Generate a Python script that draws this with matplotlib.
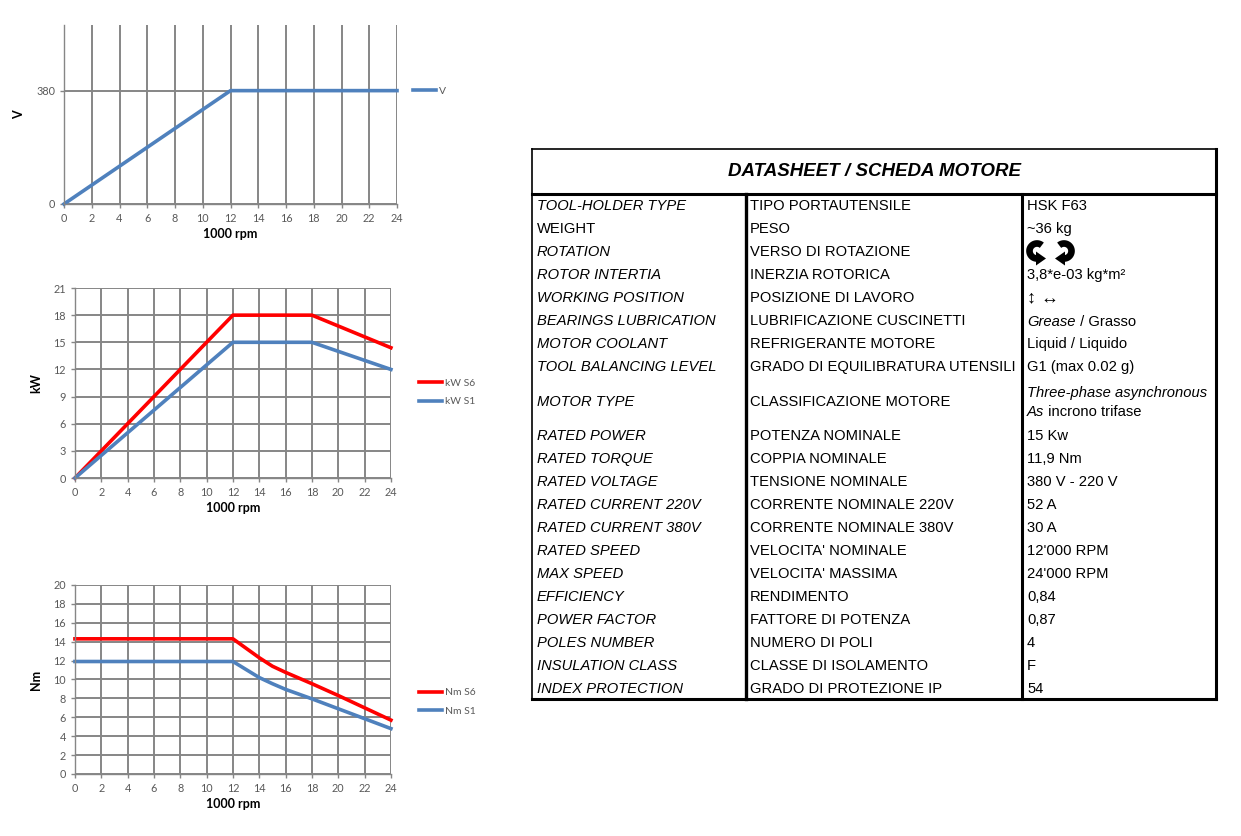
import matplotlib
matplotlib.use("Agg")
import matplotlib.pyplot as plt
import numpy as np

# chart data (x in 1000 rpm)
rpm_v = [0, 12, 24]
volts = [0, 380, 380]

rpm_kw = [0, 12, 18, 24]
kw_s6 = [0, 18, 18, 14.4]
kw_s1 = [0, 15, 15, 12]

rpm_nm = [0, 12, 14, 15, 16, 18, 20, 22, 24]
nm_s6 = [14.3, 14.3, 12.3, 11.4, 10.75, 9.55, 8.3, 7.0, 5.7]
nm_s1 = [11.9, 11.9, 10.2, 9.55, 8.95, 7.95, 6.9, 5.85, 4.8]

x_ticks = list(range(0, 25, 2))

# datasheet table
title = "DATASHEET / SCHEDA MOTORE"
col_en = ["TOOL-HOLDER TYPE", "WEIGHT", "ROTATION", "ROTOR INTERTIA", "WORKING POSITION",
          "BEARINGS LUBRICATION", "MOTOR COOLANT", "TOOL BALANCING LEVEL", "MOTOR TYPE",
          "RATED POWER", "RATED TORQUE", "RATED VOLTAGE", "RATED CURRENT 220V",
          "RATED CURRENT 380V", "RATED SPEED", "MAX SPEED", "EFFICIENCY", "POWER FACTOR",
          "POLES NUMBER", "INSULATION CLASS", "INDEX PROTECTION"]
col_it = ["TIPO PORTAUTENSILE", "PESO", "VERSO DI ROTAZIONE", "INERZIA ROTORICA",
          "POSIZIONE DI LAVORO", "LUBRIFICAZIONE CUSCINETTI", "REFRIGERANTE MOTORE",
          "GRADO DI EQUILIBRATURA UTENSILI", "CLASSIFICAZIONE MOTORE", "POTENZA NOMINALE",
          "COPPIA NOMINALE", "TENSIONE NOMINALE", "CORRENTE NOMINALE 220V",
          "CORRENTE NOMINALE 380V", "VELOCITA' NOMINALE", "VELOCITA' MASSIMA", "RENDIMENTO",
          "FATTORE DI POTENZA", "NUMERO DI POLI", "CLASSE DI ISOLAMENTO",
          "GRADO DI PROTEZIONE IP"]
col_val = ["HSK F63", "~36 kg", None, "3,8*e-03 kg*m²", "↕ ↔", None, "Liquid / Liquido",
           "G1 (max 0.02 g)", None, "15 Kw", "11,9 Nm", "380 V - 220 V", "52 A", "30 A",
           "12'000 RPM", "24'000 RPM", "0,84", "0,87", "4", "F", "54"]

BLUE = "#4F81BD"
RED = "#FF0000"
GRID = "#868686"
TXT = "#595959"

plt.rcParams['font.family'] = ['Lato', 'DejaVu Sans']

fig = plt.figure(figsize=(12.41, 8.36), dpi=100)


def style_chart(ax, ylabel):
    ax.set_xlim(0, 24)
    ax.set_xticks(x_ticks)
    ax.grid(True, color=GRID, linewidth=1.4)
    ax.set_axisbelow(True)
    for s in ["top", "right"]:
        ax.spines[s].set_visible(False)
    for s in ["left", "bottom"]:
        ax.spines[s].set_color(GRID)
        ax.spines[s].set_linewidth(1.0)
    ax.tick_params(colors=GRID, labelcolor=TXT, labelsize=7.8, length=3, width=1)
    ax.set_xlabel("1000 rpm", fontsize=9, fontweight="bold", labelpad=3)
    ax.set_ylabel(ylabel, fontsize=9, fontweight="bold", labelpad=8)


# voltage chart
ax1 = fig.add_axes([0.0516, 0.756, 0.2683, 0.2141])
ax1.plot(rpm_v, volts, color=BLUE, lw=2.6, label="V", clip_on=False)
style_chart(ax1, "V")
ax1.set_ylim(0, 600)
ax1.set_yticks([0, 380])
ax1.legend(loc="center left", bbox_to_anchor=(1.02, 0.63), frameon=False, fontsize=7.5,
           handlelength=2.2, labelcolor=TXT, handletextpad=0.3)

# power chart
ax2 = fig.add_axes([0.0604, 0.4282, 0.2546, 0.2273])
ax2.plot(rpm_kw, kw_s6, color=RED, lw=2.6, label="kW S6", clip_on=False)
ax2.plot(rpm_kw, kw_s1, color=BLUE, lw=2.6, label="kW S1", clip_on=False)
style_chart(ax2, "kW")
ax2.set_ylim(0, 21)
ax2.set_yticks(range(0, 22, 3))
ax2.legend(loc="center left", bbox_to_anchor=(1.06, 0.45), frameon=False, fontsize=7.5,
           handlelength=2.2, labelcolor=TXT, handletextpad=0.3, labelspacing=0.9)

# torque chart
ax3 = fig.add_axes([0.0604, 0.0742, 0.2546, 0.2261])
ax3.plot(rpm_nm, nm_s6, color=RED, lw=2.6, label="Nm S6", clip_on=False)
ax3.plot(rpm_nm, nm_s1, color=BLUE, lw=2.6, label="Nm S1", clip_on=False)
style_chart(ax3, "Nm")
ax3.set_ylim(0, 20)
ax3.set_yticks(range(0, 21, 2))
ax3.legend(loc="center left", bbox_to_anchor=(1.06, 0.38), frameon=False, fontsize=7.5,
           handlelength=2.2, labelcolor=TXT, handletextpad=0.3, labelspacing=0.9)

# table drawn in pixel coordinates
tb = fig.add_axes([0, 0, 1, 1], facecolor="none")
tb.set_xlim(0, 1241)
tb.set_ylim(836, 0)
tb.axis("off")

L, R, T, B = 532, 1216, 149, 699
C1, C2 = 746, 1022
tb.plot([L, R], [T, T], color="k", lw=1.2)
tb.plot([L, L], [T, B], color="k", lw=1.2)
tb.plot([R, R], [T, B], color="k", lw=2.2)
tb.plot([L, R], [B, B], color="k", lw=2.2)
tb.plot([L, R], [194, 194], color="k", lw=2.2)
tb.plot([C1, C1], [194, B], color="k", lw=2.4)
tb.plot([C2, C2], [194, B], color="k", lw=2.2)

tb.text((L + R) / 2, 171, title, ha="center", va="center", fontsize=13.5,
        fontweight="bold", style="italic", family="Liberation Sans")


def rotation_icon(cx, cy, mirror):
    # thick C-shaped arrow, arrowhead at the bottom end
    r = 7.5
    th = np.radians(np.linspace(-50, -270, 40))
    xs = cx + mirror * r * np.cos(th)
    ys = cy + r * np.sin(th)
    tb.plot(xs, ys, color="k", lw=4.8, solid_capstyle="butt")
    bx, by = cx, cy + r
    tb.fill([bx - mirror * 1, bx - mirror * 1, bx + mirror * 9],
            [by - 7, by + 7, by], color="k", lw=0)


fs = 10.6
row_h = [46 if t == "MOTOR TYPE" else 23 for t in col_en]
y = 194
for i, h in enumerate(row_h):
    yc = y + h / 2 + 0.5
    y += h
    tb.text(537, yc, col_en[i], ha="left", va="center", fontsize=fs,
            style="normal" if col_en[i] == "WEIGHT" else "italic", family="Liberation Sans")
    tb.text(750, yc, col_it[i], ha="left", va="center", fontsize=fs, family="Liberation Sans")
    v = col_val[i]
    if v is not None:
        big = col_en[i] == "WORKING POSITION"
        tb.text(1027, yc, v, ha="left", va="center", fontsize=13 if big else fs,
                family=["Liberation Sans", "DejaVu Sans"])
    elif col_en[i] == "BEARINGS LUBRICATION":
        t1 = tb.text(1027, yc + 1, "Grease", ha="left", va="center", fontsize=fs,
                     style="italic", family="Liberation Sans")
        tb.annotate(" / Grasso", xy=(1, 0.5), xycoords=t1, va="center", ha="left",
                    fontsize=fs, family="Liberation Sans")
    elif col_en[i] == "MOTOR TYPE":
        tb.text(1027, yc - 9, "Three-phase asynchronous", ha="left", va="center",
                fontsize=fs, style="italic", family="Liberation Sans")
        t2 = tb.text(1027, yc + 10, "As", ha="left", va="center", fontsize=fs,
                     style="italic", family="Liberation Sans")
        tb.annotate(" incrono trifase", xy=(1, 0.5), xycoords=t2, va="center", ha="left",
                    fontsize=fs, family="Liberation Sans")
    elif col_en[i] == "ROTATION":
        rotation_icon(1037, yc - 1, 1)
        rotation_icon(1064, yc - 1, -1)

fig.savefig("out.png", dpi=100)
